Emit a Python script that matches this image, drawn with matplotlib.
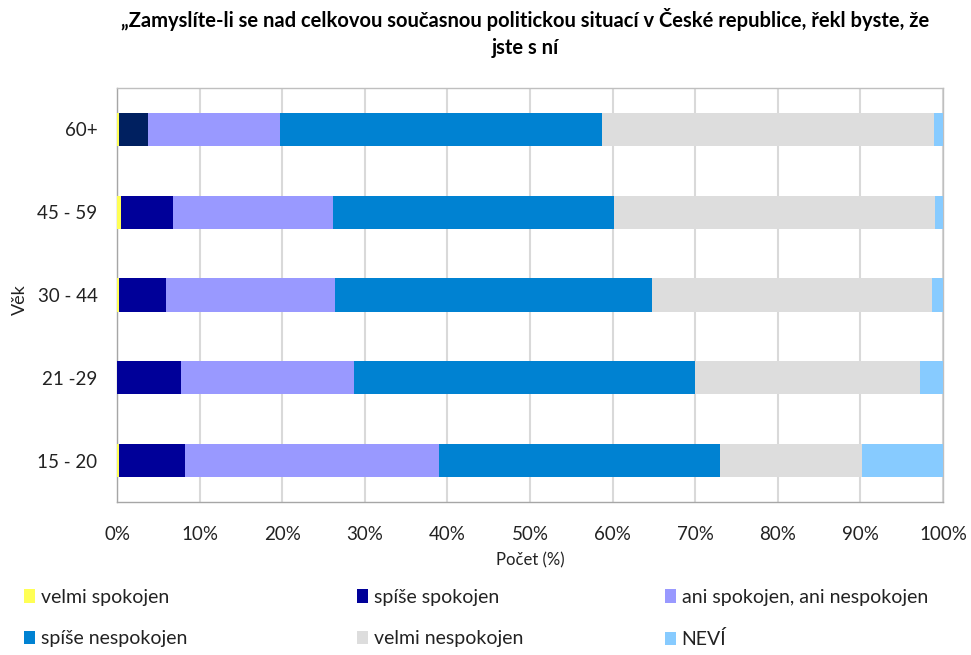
import matplotlib
matplotlib.use("Agg")
import matplotlib.pyplot as plt
from matplotlib.patches import Patch
import numpy as np

plt.rcParams['font.family'] = ['Lato', 'DejaVu Sans']

categories = ["15 - 20", "21 -29", "30 - 44", "45 - 59", "60+"]
series_names = ["velmi spokojen", "spíše spokojen", "ani spokojen, ani nespokojen",
                "spíše nespokojen", "velmi nespokojen", "NEVÍ"]
# values per series, order follows categories (15-20 ... 60+)
velmi_spokojen = [0.3, 0.0, 0.3, 0.5, 0.2]
spise_spokojen = [7.9, 7.7, 5.6, 6.3, 3.5]
ani_ani = [30.8, 21.0, 20.5, 19.4, 16.0]
spise_nespokojen = [34.0, 41.3, 38.4, 34.0, 39.0]
velmi_nespokojen = [17.2, 27.2, 33.9, 38.8, 40.2]
nevi = [9.8, 2.8, 1.3, 1.0, 1.1]
series = [velmi_spokojen, spise_spokojen, ani_ani, spise_nespokojen, velmi_nespokojen, nevi]
colors = ["#FFFF55", "#000099", "#9999FF", "#0082D2", "#DDDDDD", "#87CBFF"]
xticks = [0, 10, 20, 30, 40, 50, 60, 70, 80, 90, 100]

fig = plt.figure(figsize=(9.71, 6.55), dpi=100)
ax = fig.add_axes([117/971, 1-502/655, (943-117)/971, (502-88)/655])

y = np.arange(len(categories))
left = np.zeros(len(categories))
for i, (vals, col) in enumerate(zip(series, colors)):
    vals = np.array(vals)
    cols = [col] * len(categories)
    if i == 1:
        cols[-1] = "#002060"  # 60+ bar drawn in darker navy
    ax.barh(y, vals, left=left, height=0.4, color=cols, linewidth=0, zorder=3)
    left += vals

ax.set_xlim(0, 100)
ax.set_ylim(-0.5, len(categories) - 0.5)
ax.set_yticks(y)
ax.set_yticklabels(categories, fontsize=13.5, color="#222222")
ax.set_xticks(xticks)
ax.set_xticklabels([f"{t}%" for t in xticks], fontsize=13.5, color="#222222")
ax.tick_params(axis='both', length=0, pad=14)
ax.tick_params(axis='x', pad=17)
ax.xaxis.grid(True, color="#D9D9D9", linewidth=1.5, zorder=0)
ax.set_axisbelow(True)
for s in ax.spines.values():
    s.set_color("#BFBFBF")
    s.set_linewidth(1.0)
ax.spines['left'].set_color("#A6A6A6")
ax.spines['bottom'].set_color("#A6A6A6")

ax.set_xlabel("Počet (%)", fontsize=12, color="#222222", labelpad=7)
fig.text(20/971, 1-300/655, "Věk", rotation=90, fontsize=13, color="#222222",
         ha='center', va='center')

fig.text(525/971, 1-33/655,
         "„Zamyslíte-li se nad celkovou současnou politickou situací v České republice, řekl byste, že\njste s ní",
         ha='center', va='center', fontsize=14.5, fontweight='bold', linespacing=1.4)

# legend in three columns
col_x = [24/971, 357/971, 665/971]
for c in range(3):
    idx = [c, c + 3]
    handles = [Patch(facecolor=colors[j], edgecolor='none') for j in idx]
    labels = [series_names[j] for j in idx]
    leg = fig.legend(handles, labels, loc='upper left', bbox_to_anchor=(col_x[c], 1-589/655),
                     frameon=False, fontsize=14, handlelength=0.55, handleheight=0.7,
                     handletextpad=0.3, labelspacing=1.25, borderaxespad=0, borderpad=0)
    for t in leg.get_texts():
        t.set_color("#222222")

fig.savefig("out.png", dpi=100)
